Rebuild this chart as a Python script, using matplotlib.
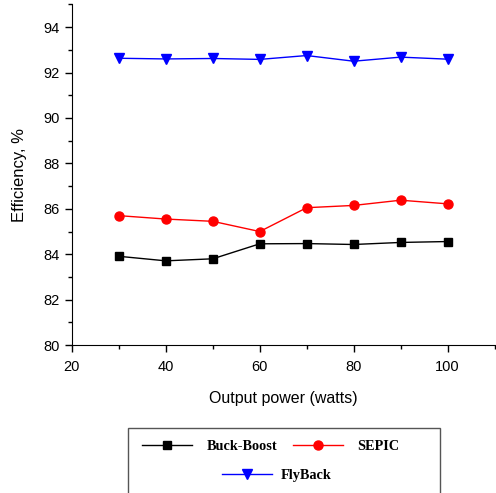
import matplotlib.pyplot as plt
from matplotlib.patches import Rectangle
from matplotlib.ticker import MultipleLocator

# Efficiency vs output power
power = [30, 40, 50, 60, 70, 80, 90, 100]
buck_boost = [83.91, 83.71, 83.80, 84.46, 84.47, 84.43, 84.52, 84.56]
sepic = [85.70, 85.55, 85.45, 85.00, 86.05, 86.15, 86.38, 86.22]
flyback = [92.63, 92.60, 92.62, 92.58, 92.75, 92.50, 92.68, 92.59]

plt.rcParams['font.family'] = ['Liberation Sans', 'DejaVu Sans']

fig = plt.figure(figsize=(4.96, 4.93), dpi=100)
ax = fig.add_axes([0.145, 0.300, 0.852, 0.691])

l1, = ax.plot(power, buck_boost, 's-', color='black', lw=1, ms=6,
              label='Buck-Boost')
l2, = ax.plot(power, sepic, 'o-', color='red', lw=1, ms=6.5,
              label='SEPIC')
l3, = ax.plot(power, flyback, 'v-', color='blue', lw=1, ms=7.5,
              label='FlyBack')

ax.set_xlim(20, 110)
ax.set_ylim(80, 95)
ax.xaxis.set_major_locator(MultipleLocator(20))
ax.xaxis.set_minor_locator(MultipleLocator(10))
ax.yaxis.set_major_locator(MultipleLocator(2))
ax.yaxis.set_minor_locator(MultipleLocator(1))
ax.set_xticks([20, 40, 60, 80, 100])
ax.spines['top'].set_visible(False)
ax.spines['right'].set_visible(False)
ax.tick_params(which='major', direction='out', length=5, width=1,
               labelsize=10.5)
ax.tick_params(axis='x', which='major', pad=6)
ax.tick_params(which='minor', direction='out', length=3, width=1)

ax.set_xlabel('Output power (watts)', fontsize=11.5, labelpad=12)
ax.set_ylabel('Efficiency, %', fontsize=12, labelpad=12)

# legend: two rows inside one box
leg_font = {'family': 'Liberation Serif', 'weight': 'bold', 'size': 10.3}
leg1 = fig.legend(handles=[l1, l2], loc='center', ncol=2,
                  bbox_to_anchor=(0.546, 0.095), frameon=False,
                  prop=leg_font, handlelength=3.5, handletextpad=1.0,
                  columnspacing=1.1)
leg2 = fig.legend(handles=[l3], loc='center',
                  bbox_to_anchor=(0.558, 0.035), frameon=False,
                  prop=leg_font, handlelength=3.5, handletextpad=0.55)
fig.patches.append(Rectangle((128 / 496, -0.02), 312 / 496, 0.151,
                             transform=fig.transFigure, fill=False,
                             edgecolor='#555555', lw=1))

fig.savefig('out.png', dpi=100)
